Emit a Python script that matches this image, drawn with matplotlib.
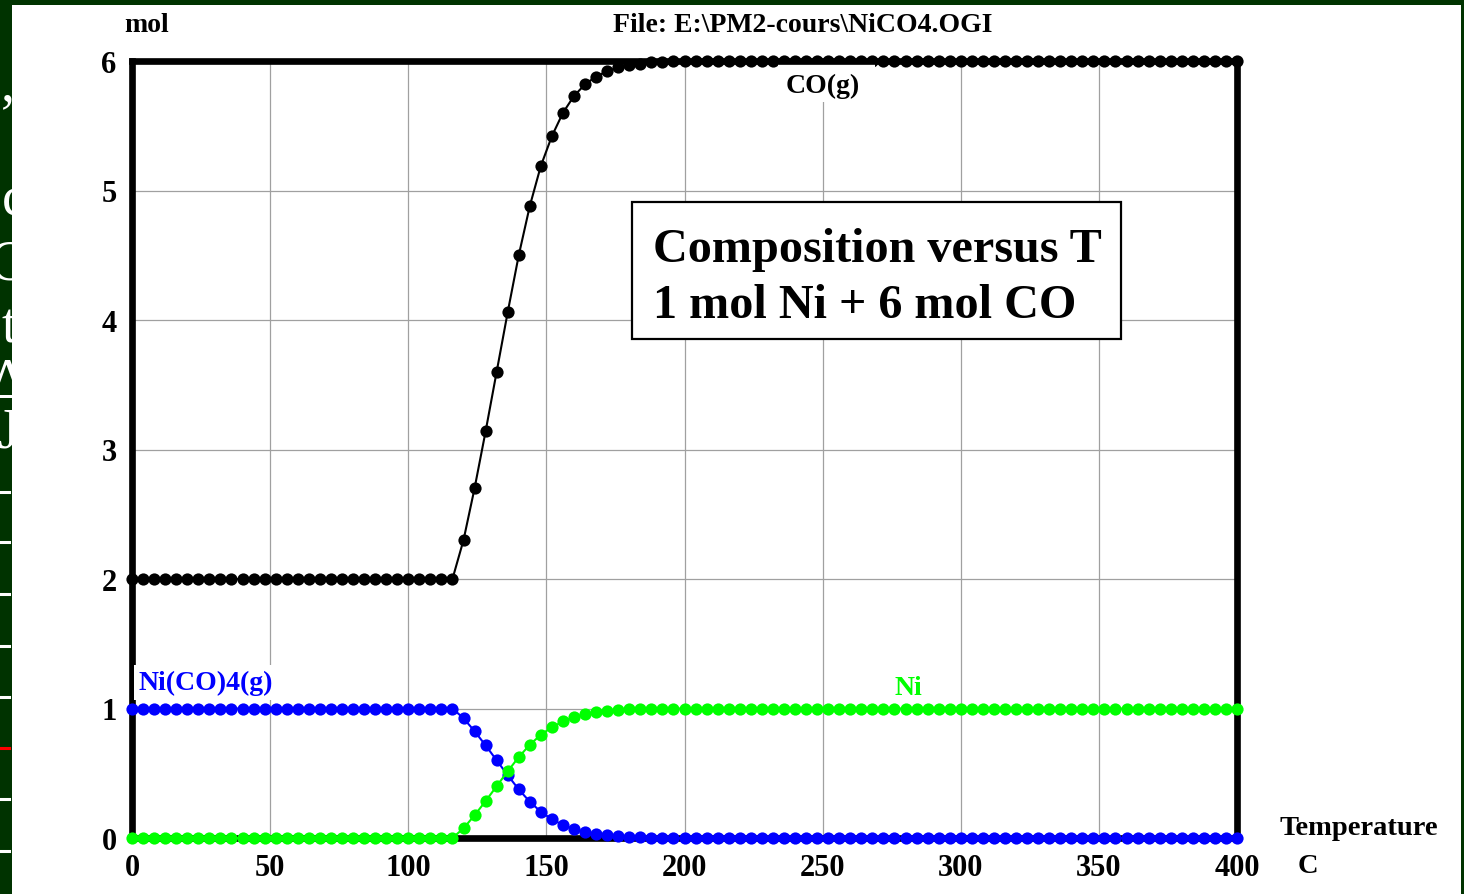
import numpy as np
import matplotlib.pyplot as plt
from matplotlib.patches import Rectangle
from matplotlib.lines import Line2D

# temperature grid (C), one point every 4 degrees
T = np.arange(0, 401, 4)

# mol of each species
co_g = [2.0] * 30 + [2.30, 2.70, 3.14, 3.60, 4.06, 4.50, 4.88, 5.19, 5.42, 5.60,
                     5.73, 5.82, 5.88, 5.92, 5.95, 5.97, 5.98, 5.99, 5.99, 6.0] + [6.0] * 51
nico4_g = [1.0] * 30 + [0.925, 0.825, 0.715, 0.60, 0.485, 0.375, 0.28, 0.2025, 0.145, 0.10,
                        0.0675, 0.045, 0.03, 0.02, 0.0125, 0.0075, 0.005, 0.0025, 0.0025, 0.0] + [0.0] * 51
ni = [0.0] * 30 + [0.075, 0.175, 0.285, 0.40, 0.515, 0.625, 0.72, 0.7975, 0.855, 0.90,
                   0.9325, 0.955, 0.97, 0.98, 0.9875, 0.9925, 0.995, 0.9975, 0.9975, 1.0] + [1.0] * 51

xticks = list(range(0, 401, 50))
yticks = list(range(0, 7))

plt.rcParams['font.family'] = ['Liberation Serif', 'DejaVu Serif']
plt.rcParams['font.weight'] = 'bold'

W, H = 1464, 895


def fx(px):
    return px / W


def fy(py):
    return 1 - py / H


fig = plt.figure(figsize=(W / 100, H / 100), dpi=100, facecolor='#003300')

# pieces of the slide behind the chart, on the left edge
for x, y, s in [(15, 100, ','), (26, 215, 'c'), (26, 280, 'C'), (17, 343, 't'),
                (26, 398, 'Δ'), (19, 448, 'J')]:
    fig.text(fx(x), fy(y), s, color='white', fontsize=40, fontweight='normal',
             ha='right', va='baseline', zorder=0.5)
for y, c in [(493, 'white'), (543, 'white'), (595, 'white'), (647, 'white'), (698, 'white'),
             (749, 'red'), (800, 'white'), (852, 'white')]:
    fig.add_artist(Line2D([0, fx(9)], [fy(y), fy(y)], transform=fig.transFigure,
                          color=c, linewidth=2.2, zorder=0.5))

fig.add_artist(Rectangle((fx(12), 0), (1461 - 12) / W, fy(6), transform=fig.transFigure,
                         facecolor='white', edgecolor='none', zorder=1))

ax = fig.add_axes([fx(132), fy(839), (1237 - 132) / W, (839 - 62) / H], zorder=2)
ax.set_xlim(0, 400)
ax.set_ylim(0, 6)
ax.set_xticks(xticks)
ax.set_yticks(yticks)
ax.set_xticklabels([str(v) for v in xticks], fontsize=22, fontweight='bold')
ax.set_yticklabels([str(v) for v in yticks], fontsize=22, fontweight='bold')
ax.tick_params(length=0, pad=11)
ax.grid(True, color='#a0a0a0', linewidth=0.9)
ax.set_axisbelow(True)
for sp in ax.spines.values():
    sp.set_linewidth(4.8)
    sp.set_color('black')
    sp.set_zorder(2.5)
ax.spines['top'].set_zorder(4)

kw = dict(marker='o', markersize=8.8, markeredgewidth=0, linewidth=1.5, clip_on=False, zorder=3)
ax.plot(T, co_g, color='black', **kw)
ax.plot(T, nico4_g, color='#0000ff', **kw)
ax.plot(T, ni, color='#00ff00', **kw)

# white patch behind the CO(g) label, cutting the dots along the top
ax.add_patch(Rectangle((233.8, 5.68), 269 - 233.8, 6.0 - 5.68, facecolor='white',
                       edgecolor='none', zorder=3.5, clip_on=False))
ax.text(250, 5.76, 'CO(g)', fontsize=20, fontweight='bold', color='black', ha='center',
        va='baseline', zorder=6)
ax.text(2.5, 1.15, 'Ni(CO)4(g)', fontsize=20, fontweight='bold', color='#0000ff', ha='left',
        va='baseline', zorder=6, bbox=dict(facecolor='white', edgecolor='none', pad=3.5))
ax.text(281, 1.11, 'Ni', fontsize=20, fontweight='bold', color='#00ff00', ha='center',
        va='baseline', zorder=6)

fig.text(fx(124), fy(32), 'mol', fontsize=20, ha='left', va='baseline', zorder=5)
fig.text(fx(803), fy(32), 'File: E:\\PM2-cours\\NiCO4.OGI', fontsize=20, ha='center',
         va='baseline', zorder=5)
fig.text(fx(1280), fy(835), 'Temperature', fontsize=20.5, ha='left', va='baseline', zorder=5)
fig.text(fx(1298), fy(873), 'C', fontsize=20.5, ha='left', va='baseline', zorder=5)

# title box
fig.add_artist(Rectangle((fx(632), fy(340)), (1121 - 632) / W, (340 - 203) / H,
                         transform=fig.transFigure, facecolor='white', edgecolor='black',
                         linewidth=1.6, zorder=5))
fig.text(fx(653), fy(262), 'Composition versus T', fontsize=34.7, ha='left', va='baseline', zorder=6)
fig.text(fx(653), fy(318), '1 mol Ni + 6 mol CO', fontsize=34.7, ha='left', va='baseline', zorder=6)

fig.savefig('out.png', dpi=100, facecolor=fig.get_facecolor())
